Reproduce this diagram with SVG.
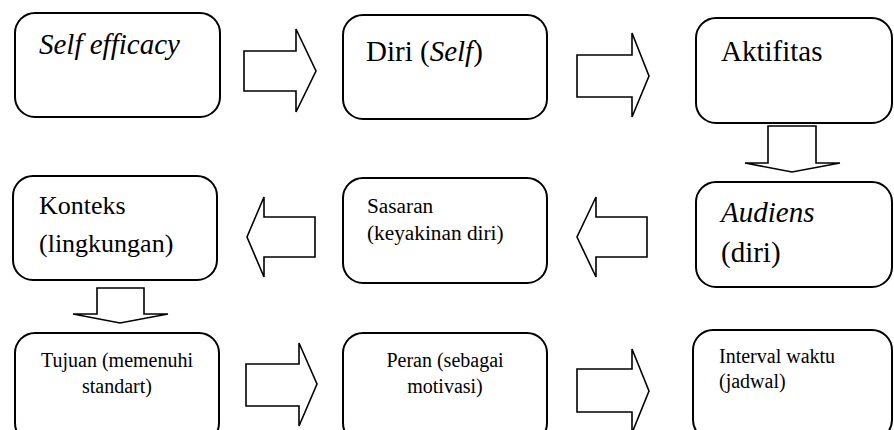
<svg xmlns="http://www.w3.org/2000/svg" width="894" height="430" viewBox="0 0 894 430">
<style>
.box{fill:#fff;stroke:#000;stroke-width:2}
.arr{fill:#fff;stroke:#000;stroke-width:1.6;stroke-linejoin:miter}
.t{font-family:'Liberation Serif','DejaVu Serif',serif;fill:#000}
.big{font-size:29px}
.mid{font-size:26px}
.sm{font-size:21.3px}
.xs{font-size:20px}
.c{text-anchor:middle}
</style>
<rect width="894" height="430" fill="#fff"/>
<g id="connectors">
<polygon class="arr" points="244,51 296,51 296,29 316,71 296,112 296,91 244,91"/>
<polygon class="arr" points="577,55 632,55 632,33 649,76 632,117 632,97 577,97"/>
<polygon class="arr" points="768,126 816,126 816,163 840,163 792,172 745,163 768,163"/>
<polygon class="arr" points="647,217 596,217 596,197 577,237 596,277 596,257 647,257"/>
<polygon class="arr" points="315,217 264,217 264,197 247,237 264,277 264,257 315,257"/>
<polygon class="arr" points="97,288 144,288 144,314 168,314 120,323 73,314 97,314"/>
<polygon class="arr" points="246,364 299,364 299,343 317,384 299,426 299,406 246,406"/>
<polygon class="arr" points="577,369 632,369 632,349 649,391 632,433 632,412 577,412"/>
</g>
<g id="self-efficacy">
<rect class="box" x="15" y="13" width="205" height="104" rx="20"/>
<text class="t big" font-family="Liberation Serif, serif" x="39" y="54" font-style="italic">Self efficacy</text>
</g>
<g id="diri">
<rect class="box" x="343" y="15" width="204" height="104" rx="20"/>
<text class="t big" font-family="Liberation Serif, serif" x="366" y="61">Diri (<tspan font-style="italic">Self</tspan>)</text>
</g>
<g id="aktifitas">
<rect class="box" x="696" y="18" width="196" height="105" rx="20"/>
<text class="t big" font-family="Liberation Serif, serif" x="721" y="61">Aktifitas</text>
</g>
<g id="audiens">
<rect class="box" x="696" y="182" width="196" height="105" rx="20"/>
<text class="t big" font-family="Liberation Serif, serif" x="721" y="222" font-style="italic">Audiens</text>
<text class="t big" font-family="Liberation Serif, serif" x="721" y="262">(diri)</text>
</g>
<g id="sasaran">
<rect class="box" x="343" y="178" width="204" height="105" rx="20"/>
<text class="t sm" font-family="Liberation Serif, serif" x="367" y="213">Sasaran</text>
<text class="t sm" font-family="Liberation Serif, serif" x="367" y="240">(keyakinan diri)</text>
</g>
<g id="konteks">
<rect class="box" x="13" y="176" width="204" height="104" rx="20"/>
<text class="t mid" font-family="Liberation Serif, serif" x="39" y="214">Konteks</text>
<text class="t mid" font-family="Liberation Serif, serif" x="39" y="252">(lingkungan)</text>
</g>
<g id="tujuan">
<rect class="box" x="15" y="333" width="204" height="110" rx="20"/>
<text class="t xs c" font-family="Liberation Serif, serif" x="117" y="367">Tujuan (memenuhi</text>
<text class="t xs c" font-family="Liberation Serif, serif" x="117" y="393">standart)</text>
</g>
<g id="peran">
<rect class="box" x="343" y="333" width="204" height="110" rx="20"/>
<text class="t xs c" font-family="Liberation Serif, serif" x="445" y="367">Peran (sebagai</text>
<text class="t xs c" font-family="Liberation Serif, serif" x="445" y="393">motivasi)</text>
</g>
<g id="interval">
<rect class="box" x="693" y="330" width="199" height="110" rx="20"/>
<text class="t xs" font-family="Liberation Serif, serif" x="719" y="363">Interval waktu</text>
<text class="t xs" font-family="Liberation Serif, serif" x="719" y="388">(jadwal)</text>
</g>
</svg>
